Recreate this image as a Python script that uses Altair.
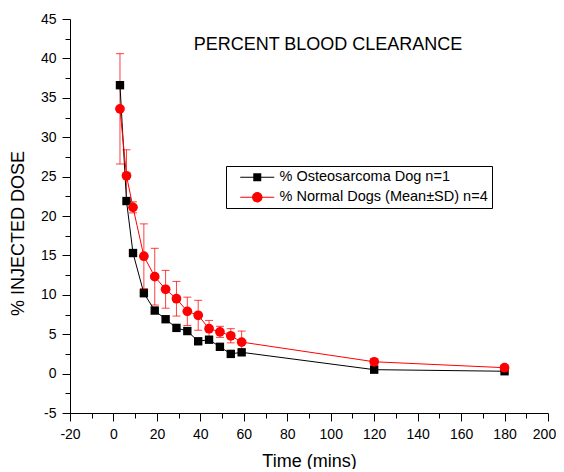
import altair as alt
import pandas as pd

# ---- data ----
time_min = [3, 6, 9, 14, 19, 24, 29, 34, 39, 44, 49, 54, 59, 120, 180]
osteo_dose = [36.6, 21.9, 15.3, 10.2, 8.0, 6.9, 5.8, 5.4, 4.1, 4.3, 3.4, 2.5, 2.7, 0.5, 0.3]
normal_mean = [33.6, 25.1, 21.1, 14.9, 12.3, 10.7, 9.5, 7.9, 7.4, 5.7, 5.3, 4.8, 4.0, 1.5, 0.75]
normal_sd = [7.0, 3.3, 0.7, 4.1, 3.6, 2.4, 2.2, 1.8, 1.9, 1.05, 0.7, 0.9, 1.4, 0.4, 0.3]
series = ["% Osteosarcoma Dog n=1", "% Normal Dogs (Mean±SD) n=4"]
series_colors = ["#000000", "#ff0000"]
x_tick_values = [-20, -10, 0, 10, 20, 30, 40, 50, 60, 70, 80, 90, 100, 110, 120,
                 130, 140, 150, 160, 170, 180, 190, 200]
y_tick_values = [-5, -2.5, 0, 2.5, 5, 7.5, 10, 12.5, 15, 17.5, 20, 22.5, 25, 27.5,
                 30, 32.5, 35, 37.5, 40, 42.5, 45]

FONT = "Liberation Sans"

# legend glyphs: line segment with marker in the middle
legend_shapes = [
    "M0.6,-0.1H7.4V0.1H0.6Z M3.2,-0.8H4.8V0.8H3.2Z",
    "M0.6,-0.1H7.4V0.1H0.6Z M2.95,0A1.05,1.05 0 1,1 5.05,0A1.05,1.05 0 1,1 2.95,0Z",
]

df_o = pd.DataFrame({"t": time_min, "v": osteo_dose})
df_n = pd.DataFrame({"t": time_min, "v": normal_mean, "sd": normal_sd})
df_n["lo"] = df_n["v"] - df_n["sd"]
df_n["hi"] = df_n["v"] + df_n["sd"]
df_leg = pd.DataFrame({"s": series})

x_axis = alt.Axis(
    values=x_tick_values,
    labelExpr="datum.value % 20 == 0 ? (datum.value < 0 ? '-' + abs(datum.value) : '' + datum.value) : ''",
    tickSize={"condition": {"test": "datum.value % 20 == 0", "value": 8}, "value": 5},
    labelOffset={"condition": {"test": "datum.value == 200", "value": -4}, "value": 0},
    title="Time (mins)", titleFont=FONT, titleFontSize=18, titleFontWeight="normal",
    titleColor="black", titleBaseline="alphabetic", titleY=53,
    labelFont=FONT, labelFontSize=14, labelColor="black", labelPadding=6,
    domainColor="black", tickColor="black", grid=False, labelFlush=False,
)
y_axis = alt.Axis(
    values=y_tick_values,
    labelExpr="datum.value % 5 == 0 ? (datum.value < 0 ? '-' + abs(datum.value) : '' + datum.value) : ''",
    tickSize={"condition": {"test": "datum.value % 5 == 0", "value": 8}, "value": 5},
    title="% INJECTED DOSE", titleFont=FONT, titleFontSize=18, titleFontWeight="normal",
    titleColor="black", titleAngle=270, titleAlign="center", titleBaseline="middle",
    titleX=-52, titleY=214,
    labelFont=FONT, labelFontSize=14, labelColor="black", labelPadding=6,
    domainColor="black", tickColor="black", grid=False, labelFlush=False,
)
x_scale = alt.Scale(domain=[-20, 200], nice=False, zero=False)
y_scale = alt.Scale(domain=[-5, 45], nice=False, zero=False)

X = alt.X("t:Q", scale=x_scale, axis=x_axis)

def Y(field):
    return alt.Y(f"{field}:Q", scale=y_scale, axis=y_axis)

err_rule = alt.Chart(df_n).mark_rule(color="#ff0000", opacity=0.75, strokeWidth=1).encode(
    x=X, y=Y("lo"), y2="hi:Q")
cap_hi = alt.Chart(df_n).mark_tick(color="#ff0000", opacity=0.75, orient="horizontal",
                                   size=8, thickness=1).encode(x=X, y=Y("hi"))
cap_lo = alt.Chart(df_n).mark_tick(color="#ff0000", opacity=0.75, orient="horizontal",
                                   size=8, thickness=1).encode(x=X, y=Y("lo"))
line_o = alt.Chart(df_o).mark_line(color="black", strokeWidth=1).encode(x=X, y=Y("v"))
pts_o = alt.Chart(df_o).mark_square(color="black", size=70, opacity=1).encode(x=X, y=Y("v"))
line_n = alt.Chart(df_n).mark_line(color="#ff0000", strokeWidth=1).encode(x=X, y=Y("v"))
pts_n = alt.Chart(df_n).mark_circle(color="#ff0000", size=95, opacity=1).encode(x=X, y=Y("v"))

def make_legend():
    return alt.Legend(orient="none", legendX=156, legendY=147, title=None,
                      labelFont=FONT, labelFontSize=14.5, labelColor="black", labelLimit=0,
                      symbolSize=100, symbolStrokeWidth=0, symbolOpacity=1,
                      labelOffset=35, padding=4, rowPadding=5,
                      strokeColor="black", fillColor="white")

legend_layer = alt.Chart(df_leg).transform_filter("false").mark_point(filled=True, opacity=1).encode(
    color=alt.Color("s:N", scale=alt.Scale(domain=series, range=series_colors), legend=make_legend()),
    shape=alt.Shape("s:N", scale=alt.Scale(domain=series, range=legend_shapes), legend=make_legend()),
)

chart = alt.layer(err_rule, cap_hi, cap_lo, line_o, pts_o, line_n, pts_n, legend_layer).properties(
    width=478, height=394,
    autosize=alt.AutoSizeParams(type="none"),
    padding={"left": 62, "top": 11, "right": 8, "bottom": 56},
    title=alt.TitleParams("PERCENT BLOOD CLEARANCE", font=FONT, fontSize=18,
                          fontWeight="normal", color="black", anchor="middle",
                          frame="group", dx=19, dy=56, baseline="alphabetic", offset=0),
).configure_view(stroke=None)

chart.save("out.html", embed_options={"renderer": "svg", "actions": False})
